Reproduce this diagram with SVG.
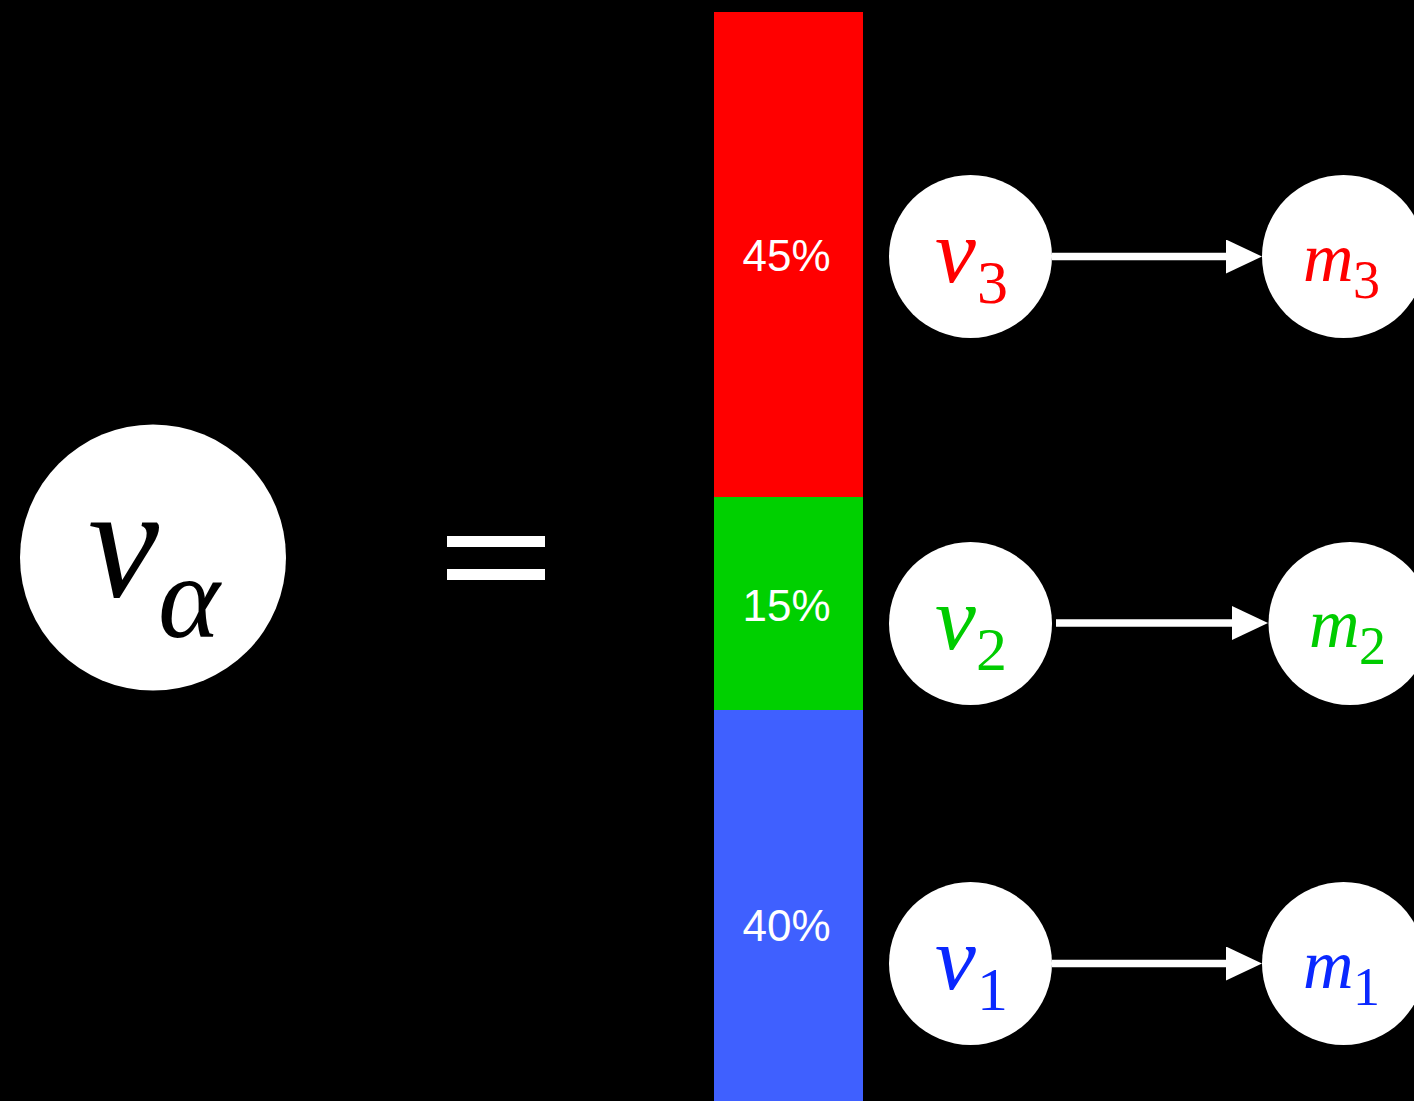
<svg xmlns="http://www.w3.org/2000/svg" width="1414" height="1101" viewBox="0 0 1414 1101">
  <style>
    .node { fill: #FFFFFF; }
    .sym { font-family: "Liberation Serif", "DejaVu Serif", serif; font-style: italic; }
    .sub { font-family: "Liberation Serif", "DejaVu Serif", serif; }
    .pct { font-family: "Liberation Sans", Arial, sans-serif; font-size: 44px; fill: #FFFFFF; text-anchor: middle; }
    .conn { stroke: #FFFFFF; stroke-width: 7.5; fill: none; }
    .red { fill: #FF0000; }
    .green { fill: #00CC00; }
    .blue { fill: #0A28FF; }
  </style>
  <defs>
    <marker id="head" viewBox="0 0 36 34" refX="0" refY="17" markerWidth="36" markerHeight="34" markerUnits="userSpaceOnUse" orient="auto">
      <path d="M0,0 L36,17 L0,34 Z" fill="#FFFFFF"/>
    </marker>
  </defs>
  <rect x="0" y="0" width="1414" height="1101" fill="#000000"/>

  <g id="nu-alpha">
    <circle class="node" cx="153" cy="557.5" r="133"/>
    <text class="sym" x="88" y="596" font-size="160" fill="#000000">ν</text>
    <text class="sym" x="158" y="637" font-size="118" fill="#000000">α</text>
  </g>

  <g id="equals">
    <rect x="447" y="536" width="98" height="11" fill="#FFFFFF"/>
    <rect x="447" y="569" width="98" height="11" fill="#FFFFFF"/>
  </g>

  <g id="bar">
    <rect x="714" y="12" width="149" height="485" fill="#FF0000"/>
    <rect x="714" y="497" width="149" height="213" fill="#00D000"/>
    <rect x="714" y="710" width="149" height="391" fill="#3F60FF"/>
    <text class="pct" x="786.5" y="270.5">45%</text>
    <text class="pct" x="786.5" y="620.5">15%</text>
    <text class="pct" x="786.5" y="940.5">40%</text>
  </g>

  <g id="nu3">
    <circle class="node" cx="970.5" cy="256.5" r="81.5"/>
    <text class="sym red" x="935" y="282" font-size="92">ν</text>
    <text class="sub red" x="977" y="303" font-size="62">3</text>
  </g>
  <g id="nu2">
    <circle class="node" cx="970.5" cy="623.5" r="81.5"/>
    <text class="sym green" x="935" y="649" font-size="92">ν</text>
    <text class="sub green" x="976" y="670" font-size="62">2</text>
  </g>
  <g id="nu1">
    <circle class="node" cx="970.5" cy="963.5" r="81.5"/>
    <text class="sym blue" x="935" y="989" font-size="92">ν</text>
    <text class="sub blue" x="977" y="1010" font-size="62">1</text>
  </g>

  <g id="m3">
    <circle class="node" cx="1343.5" cy="256.5" r="81.5"/>
    <text class="sym red" x="1303" y="281" font-size="70">m</text>
    <text class="sub red" x="1353" y="298" font-size="54">3</text>
  </g>
  <g id="m2">
    <circle class="node" cx="1350" cy="623.5" r="81.5"/>
    <text class="sym green" x="1309" y="647" font-size="70">m</text>
    <text class="sub green" x="1359" y="664" font-size="54">2</text>
  </g>
  <g id="m1">
    <circle class="node" cx="1343.5" cy="963.5" r="81.5"/>
    <text class="sym blue" x="1303" y="988" font-size="70">m</text>
    <text class="sub blue" x="1353" y="1005" font-size="54">1</text>
  </g>

  <g id="connectors">
    <line class="conn" x1="1052" y1="256.5" x2="1226" y2="256.5" marker-end="url(#head)"/>
    <line class="conn" x1="1056" y1="623" x2="1232" y2="623" marker-end="url(#head)"/>
    <line class="conn" x1="1052" y1="963.5" x2="1226" y2="963.5" marker-end="url(#head)"/>
  </g>
</svg>
